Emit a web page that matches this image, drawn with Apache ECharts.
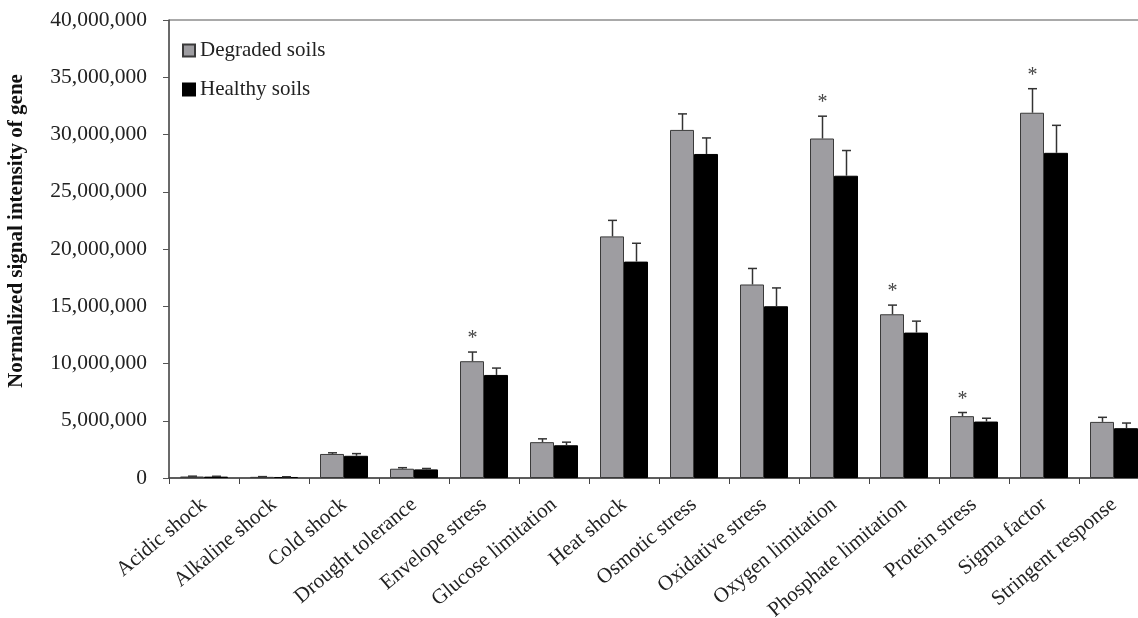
<!DOCTYPE html>
<html>
<head>
<meta charset="utf-8">
<script src="https://cdn.jsdelivr.net/npm/echarts@6/dist/echarts.min.js"></script>
<style>
  html, body { margin: 0; padding: 0; background: #fff; }
  #chart { width: 1138px; height: 618px; }
</style>
</head>
<body>
<div id="chart"></div>
<script>
const categories = ['Acidic shock', 'Alkaline shock', 'Cold shock', 'Drought tolerance', 'Envelope stress',
  'Glucose limitation', 'Heat shock', 'Osmotic stress', 'Oxidative stress', 'Oxygen limitation',
  'Phosphate limitation', 'Protein stress', 'Sigma factor', 'Stringent response'];
const degraded = [130000, 100000, 2100000, 810000, 10200000, 3130000, 21100000, 30400000, 16900000, 29650000, 14300000, 5400000, 31900000, 4900000];
const healthy = [120000, 90000, 1940000, 750000, 9000000, 2860000, 18900000, 28300000, 15000000, 26400000, 12700000, 4930000, 28400000, 4350000];
const degradedErr = [30000, 20000, 100000, 90000, 800000, 290000, 1400000, 1400000, 1400000, 1950000, 800000, 320000, 2100000, 400000];
const healthyErr = [30000, 20000, 190000, 80000, 600000, 270000, 1600000, 1400000, 1600000, 2200000, 1000000, 290000, 2400000, 450000];
const significant = [0, 0, 0, 0, 1, 0, 0, 0, 0, 1, 1, 1, 1, 0];
const yTicks = { min: 0, max: 40000000, interval: 5000000 };
const yTitle = 'Normalized signal intensity of gene';

const FONT = 'Liberation Serif';
const BAR_W = 24;

function errSeries(name, vals, errs, offset, stars) {
  return {
    type: 'custom',
    name: name,
    z: 5,
    silent: true,
    data: vals.map((v, i) => [i, v, errs[i], stars ? stars[i] : 0]),
    renderItem: function (params, api) {
      const base = api.coord([api.value(0), api.value(1)]);
      const top = api.coord([api.value(0), api.value(1) + api.value(2)]);
      const cx = Math.round(base[0] + offset) + 0.5;
      const children = [
        { type: 'line', shape: { x1: cx, y1: base[1], x2: cx, y2: top[1] }, style: { stroke: '#333', lineWidth: 1.5 } },
        { type: 'line', shape: { x1: cx - 4.5, y1: top[1], x2: cx + 4.5, y2: top[1] }, style: { stroke: '#333', lineWidth: 1.5 } }
      ];
      if (api.value(3)) {
        children.push({ type: 'text', style: { text: '*', x: cx, y: top[1] - 3, align: 'center', verticalAlign: 'bottom', font: '20px "' + FONT + '"', fill: '#444' } });
      }
      return { type: 'group', children: children };
    }
  };
}

const chart = echarts.init(document.getElementById('chart'));
chart.setOption({
  animation: false,
  backgroundColor: '#fff',
  grid: { left: 169, top: 20, width: 980, height: 458, show: true, borderColor: '#555', borderWidth: 1,
    containLabel: false, outerBoundsMode: 'none' },
  legend: {
    data: ['Degraded soils', 'Healthy soils'],
    orient: 'vertical', left: 177, top: 35, itemGap: 18, itemWidth: 12, itemHeight: 12,
    icon: 'rect',
    textStyle: { fontFamily: FONT, fontSize: 21, color: '#222' }
  },
  graphic: [{
    type: 'text', x: 17, y: 231, rotation: Math.PI / 2,
    style: { text: yTitle, align: 'center', verticalAlign: 'middle', font: 'bold 21px "' + FONT + '"', fill: '#111' }
  }],
  xAxis: {
    type: 'category',
    data: categories,
    axisLine: { lineStyle: { color: '#444', width: 1.5 } },
    axisTick: { show: true, length: 6, lineStyle: { color: '#444' } },
    axisLabel: { rotate: 40, interval: 0, margin: 24, fontFamily: FONT, fontSize: 21, color: '#222' }
  },
  yAxis: {
    type: 'value',
    min: yTicks.min, max: yTicks.max, interval: yTicks.interval,
    axisLine: { show: true, lineStyle: { color: '#555', width: 1.5 } },
    axisTick: { show: true, length: 6, lineStyle: { color: '#555' } },
    splitLine: { show: false },
    axisLabel: {
      margin: 22, fontFamily: FONT, fontSize: 21.5, color: '#222',
      formatter: v => v.toLocaleString('en-US')
    }
  },
  series: [
    { name: 'Degraded soils', type: 'bar', data: degraded, barWidth: BAR_W, barGap: '0%',
      itemStyle: { color: '#9e9da1', borderColor: '#3a3a3a', borderWidth: 1 } },
    { name: 'Healthy soils', type: 'bar', data: healthy, barWidth: BAR_W, barGap: '0%',
      itemStyle: { color: '#000', borderColor: '#000', borderWidth: 1 } },
    errSeries('errD', degraded, degradedErr, -BAR_W / 2, significant),
    errSeries('errH', healthy, healthyErr, BAR_W / 2, null)
  ]
});
</script>
</body>
</html>
